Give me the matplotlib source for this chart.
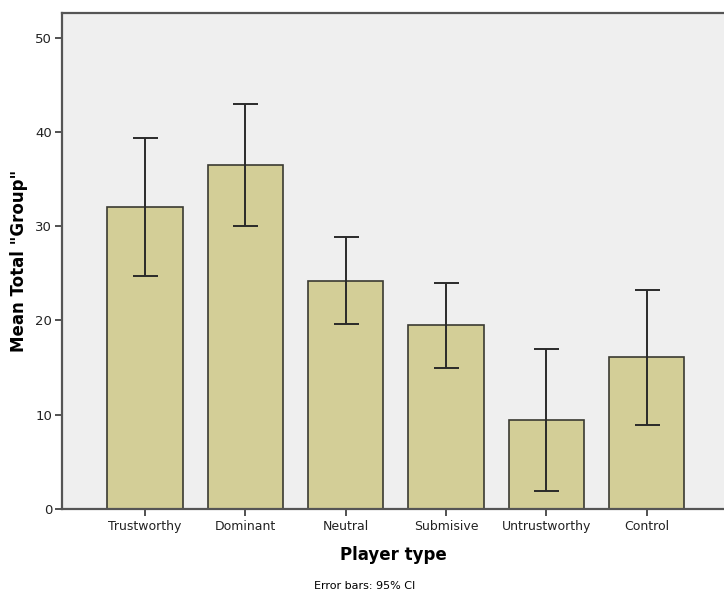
import matplotlib
matplotlib.use("Agg")
import matplotlib.pyplot as plt
import numpy as np

categories = ["Trustworthy", "Dominant", "Neutral", "Submisive", "Untrustworthy", "Control"]
means = [32.0, 36.5, 24.2, 19.5, 9.45, 16.1]
ci_upper = [39.3, 42.9, 28.8, 24.0, 17.0, 23.25]
ci_lower = [24.7, 30.0, 19.65, 15.0, 1.95, 8.9]
yticks = [0, 10, 20, 30, 40, 50]

plt.rcParams['font.family'] = ['DejaVu Sans']

fig = plt.figure(figsize=(7.24, 5.92), dpi=100)
ax = fig.add_axes([62 / 724, 1 - 509 / 592, 1 - 62 / 724, (509 - 13) / 592])
ax.set_facecolor("#efefef")

x = np.arange(len(categories))
means_a = np.array(means)
err = np.vstack([means_a - np.array(ci_lower), np.array(ci_upper) - means_a])

ax.bar(x, means, width=0.75, color="#d3ce97", edgecolor="#3a3a32", linewidth=1.2, zorder=2)
ax.errorbar(x, means, yerr=err, fmt="none", ecolor="#2a2a2a", elinewidth=1.4,
            capsize=9, capthick=1.4, zorder=3)

ax.set_xlim(-0.827, 5.77)
ax.set_ylim(0, 52.6)
ax.set_yticks(yticks)
ax.set_xticks(x)
ax.set_xticklabels(categories, fontsize=9)
ax.tick_params(axis="y", labelsize=9.5, length=5, width=1.2, color="#333333",
               labelcolor="#222222", pad=2)
ax.tick_params(axis="x", length=5, width=1.2, color="#333333", labelcolor="#222222", pad=3)

for side in ["left", "bottom", "top"]:
    ax.spines[side].set_color("#555555")
    ax.spines[side].set_linewidth(1.6)
ax.spines["right"].set_visible(False)

ax.set_ylabel('Mean Total "Group"', fontsize=12, fontweight="bold", labelpad=5)
ax.set_xlabel("Player type", fontsize=12, fontweight="bold", labelpad=9)
fig.text(365 / 724, 1 - 586 / 592, "Error bars: 95% CI", ha="center", va="center", fontsize=8)

fig.savefig("out.png", dpi=100, facecolor="white")
